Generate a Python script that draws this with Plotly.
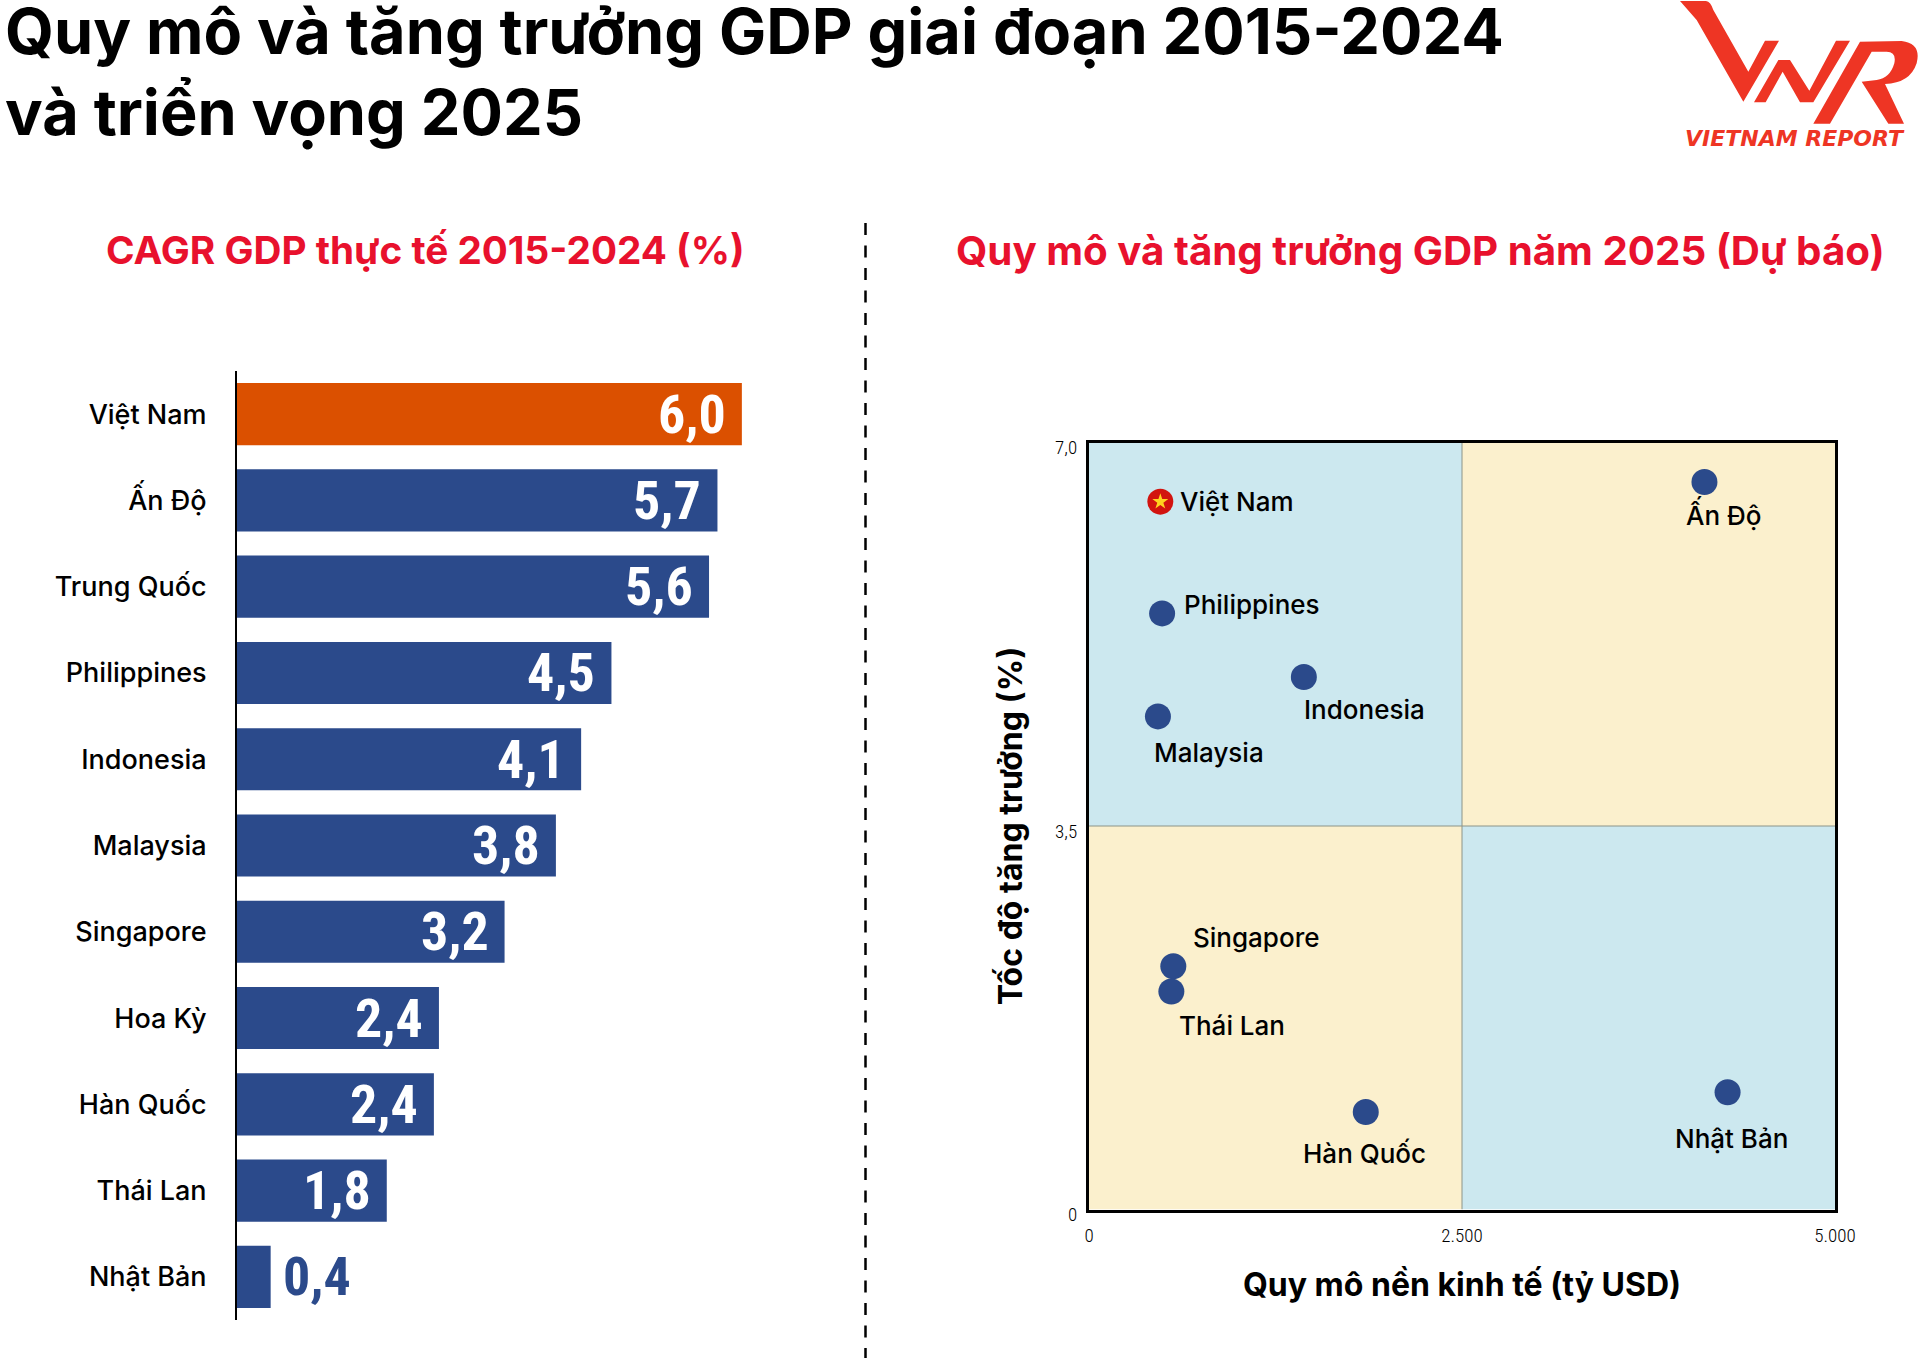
import plotly.graph_objects as go

WIDTH = 1920
HEIGHT = 1358

BLUE = '#2B4A8B'
ORANGE = '#DB5000'
RED = '#E8112D'
LOGO_RED = '#EE3524'
SKY = '#CCE8EF'
CREAM = '#FBF0CD'
TEXT_FONT = 'Inter'
NUM_FONT = 'Roboto Condensed, Open Sans Condensed, Noto Sans Condensed, DejaVu Sans Condensed, Roboto'

# bar chart
countries = ['Việt Nam', 'Ấn Độ', 'Trung Quốc', 'Philippines', 'Indonesia', 'Malaysia',
             'Singapore', 'Hoa Kỳ', 'Hàn Quốc', 'Thái Lan', 'Nhật Bản']
cagr = [6.0, 5.71, 5.61, 4.45, 4.09, 3.79, 3.18, 2.40, 2.34, 1.78, 0.4]
cagr_labels = ['6,0', '5,7', '5,6', '4,5', '4,1', '3,8', '3,2', '2,4', '2,4', '1,8', '0,4']

# scatter chart
scatter_names = ['Ấn Độ', 'Philippines', 'Indonesia', 'Malaysia', 'Singapore', 'Thái Lan', 'Hàn Quốc', 'Nhật Bản']
gdp_size = [4125, 490, 1440, 462, 565, 552, 1855, 4280]
gdp_growth = [6.64, 5.44, 4.86, 4.50, 2.22, 1.99, 0.89, 1.07]
vn_size = [478]
vn_growth = [6.46]
x_ticks = [0, 2500, 5000]
x_tick_labels = ['0', '2.500', '5.000']
y_ticks = [0, 3.5, 7]
y_tick_labels = ['0', '3,5', '7,0']

# label offsets in pixels from the point (dx to left edge, dy down)
label_offsets = {
    'Việt Nam': (18, 0), 'Ấn Độ': (-20, 32), 'Philippines': (20, -9), 'Indonesia': (-2, 33),
    'Malaysia': (-6, 36), 'Singapore': (18, -29), 'Thái Lan': (6, 34), 'Hàn Quốc': (-65, 42),
    'Nhật Bản': (-55, 46),
}


def px_x(v):
    return v / WIDTH


def px_y(v):
    return 1 - v / HEIGHT


def logo_path(cmds):
    # logo traced on a 3x crop whose origin is (1600, 0)
    out = []
    for c in cmds:
        out.append(c[0])
        vals = c[1:]
        for i in range(0, len(vals), 2):
            out.append(f'{px_x(1600 + vals[i] / 3):.5f},{px_y(vals[i + 1] / 3):.5f}')
    return ' '.join(out) + ' Z'


fig = go.Figure()

bar_colors = [ORANGE] + [BLUE] * (len(countries) - 1)
fig.add_trace(go.Bar(x=cagr, y=countries, orientation='h', marker_color=bar_colors, marker_line_width=0,
                     width=0.72, xaxis='x', yaxis='y', hoverinfo='skip'))

fig.add_trace(go.Scatter(x=gdp_size, y=gdp_growth, mode='markers', xaxis='x2', yaxis='y2',
                         marker=dict(color=BLUE, size=26), hoverinfo='skip'))
fig.add_trace(go.Scatter(x=vn_size, y=vn_growth, mode='markers', xaxis='x2', yaxis='y2',
                         marker=dict(color='#D2140F', size=26), hoverinfo='skip'))
fig.add_trace(go.Scatter(x=vn_size, y=vn_growth, mode='markers', xaxis='x2', yaxis='y2',
                         marker=dict(color='#FFD21F', size=12, symbol='star'), hoverinfo='skip'))

annotations = []


def add_text(text, x, y, size, color='black', weight=400, font=TEXT_FONT, anchor='left', angle=0):
    annotations.append(dict(text=text, x=px_x(x), y=px_y(y), xref='paper', yref='paper', showarrow=False,
                            xanchor=anchor, yanchor='middle', textangle=angle,
                            font=dict(family=font, size=size, color=color, weight=weight)))


add_text('Quy mô và tăng trưởng GDP giai đoạn 2015-2024', 3, 31, 63, weight=700)
add_text('và triển vọng 2025', 3, 112, 63, weight=700)
add_text('CAGR GDP thực tế 2015-2024 (%)', 425, 250, 38.7, color=RED, weight=700, anchor='center')
add_text('Quy mô và tăng trưởng GDP năm 2025 (Dự báo)', 1420, 250, 40.3, color=RED, weight=700, anchor='center')
add_text('VIETNAM REPORT', 1795, 139, 22, color=LOGO_RED, weight=700, font='DejaVu Sans', anchor='center')
annotations[-1]['font']['style'] = 'italic'

# value labels on the bars
for name, val, lab in zip(countries, cagr, cagr_labels):
    inside = val > 1
    annotations.append(dict(text=lab, x=val, y=name, xref='x', yref='y', showarrow=False,
                            xanchor='right' if inside else 'left', xshift=-14 if inside else 10,
                            font=dict(family=NUM_FONT, size=54, weight=700, color='white' if inside else BLUE)))

# point labels on the scatter
for name, x, y in zip(['Việt Nam'] + scatter_names, vn_size + gdp_size, vn_growth + gdp_growth):
    dx, dy = label_offsets[name]
    annotations.append(dict(text=name, x=x, y=y, xref='x2', yref='y2', showarrow=False, xanchor='left',
                            xshift=dx, yshift=-dy, font=dict(family=TEXT_FONT, size=26, color='black', weight=500)))

shapes = [
    dict(type='rect', xref='x2', yref='y2', x0=0, x1=2500, y0=3.5, y1=7, fillcolor=SKY, line_width=0, layer='below'),
    dict(type='rect', xref='x2', yref='y2', x0=2500, x1=5000, y0=3.5, y1=7, fillcolor=CREAM, line_width=0, layer='below'),
    dict(type='rect', xref='x2', yref='y2', x0=0, x1=2500, y0=0, y1=3.5, fillcolor=CREAM, line_width=0, layer='below'),
    dict(type='rect', xref='x2', yref='y2', x0=2500, x1=5000, y0=0, y1=3.5, fillcolor=SKY, line_width=0, layer='below'),
    dict(type='line', xref='x2', yref='y2', x0=2500, x1=2500, y0=0, y1=7, line=dict(color='#8C9488', width=1), layer='below'),
    dict(type='line', xref='x2', yref='y2', x0=0, x1=5000, y0=3.5, y1=3.5, line=dict(color='#8C9488', width=1), layer='below'),
    # divider
    dict(type='line', xref='paper', yref='paper', x0=px_x(865.5), x1=px_x(865.5), y0=px_y(223), y1=0,
         line=dict(color='black', width=2.5, dash='12px,10.5px')),
    # logo
    dict(type='path', xref='paper', yref='paper', fillcolor=LOGO_RED, line_width=0,
         path=logo_path([('M', 240, 3), ('L', 318, 3), ('Q', 332, 5, 340, 30), ('L', 445, 215), ('L', 495, 122),
                         ('L', 537, 122), ('L', 430, 305), ('L', 290, 60)])),
    dict(type='path', xref='paper', yref='paper', fillcolor=LOGO_RED, line_width=0,
         path=logo_path([('M', 462, 307), ('L', 535, 180), ('L', 570, 180), ('L', 628, 272), ('L', 708, 122),
                         ('L', 750, 122), ('L', 640, 307), ('L', 600, 307), ('L', 548, 215), ('L', 497, 307)])),
    dict(type='path', xref='paper', yref='paper', fillcolor=LOGO_RED, line_width=0,
         path=logo_path([('M', 640, 371), ('L', 780, 125), ('L', 905, 123), ('Q', 965, 130, 950, 190),
                         ('Q', 930, 250, 855, 252), ('L', 912, 371), ('L', 865, 371), ('L', 785, 245),
                         ('L', 830, 240), ('Q', 870, 235, 883, 190), ('Q', 890, 155, 860, 155),
                         ('L', 815, 155), ('L', 690, 371)])),
]

axis_title_font = dict(family=TEXT_FONT, size=32, color='black', weight=700)
tick_font = dict(family=NUM_FONT, size=19, color='black', weight=300)

fig.update_layout(
    width=WIDTH, height=HEIGHT, margin=dict(l=0, r=0, t=0, b=0),
    paper_bgcolor='white', plot_bgcolor='white', showlegend=False,
    annotations=annotations, shapes=shapes,
    xaxis=dict(domain=[px_x(237), px_x(826)], range=[0, 7], visible=False, fixedrange=True, automargin=False),
    yaxis=dict(domain=[px_y(1320), px_y(371)], autorange='reversed', showline=True, linecolor='black', linewidth=2,
               ticks='', ticklabelstandoff=23, tickfont=dict(family=TEXT_FONT, size=27, color='black', weight=500),
               showgrid=False, zeroline=False, anchor='x', automargin=False),
    xaxis2=dict(domain=[px_x(1089), px_x(1835)], range=[0, 5000], tickvals=x_ticks, ticktext=x_tick_labels,
                showline=True, mirror=True, linecolor='black', linewidth=3, ticks='', tickfont=tick_font,
                ticklabelstandoff=7, showgrid=False, zeroline=False, anchor='y2', automargin=False,
                title=dict(text='Quy mô nền kinh tế (tỷ USD)', font=axis_title_font, standoff=28)),
    yaxis2=dict(domain=[px_y(1209.5), px_y(442.5)], range=[0, 7], tickvals=y_ticks, ticktext=y_tick_labels,
                showline=True, mirror=True, linecolor='black', linewidth=3, ticks='', tickfont=tick_font,
                ticklabelstandoff=5, ticklabelshift=5, showgrid=False, zeroline=False, anchor='x2', automargin=False,
                title=dict(text='Tốc độ tăng trưởng (%)', font=axis_title_font, standoff=23)),
)

# the page's default body margin would push the 1920 wide figure off the window
fig.write_html('out.html', config={'displayModeBar': False}, post_script="document.body.style.margin = '0';")
